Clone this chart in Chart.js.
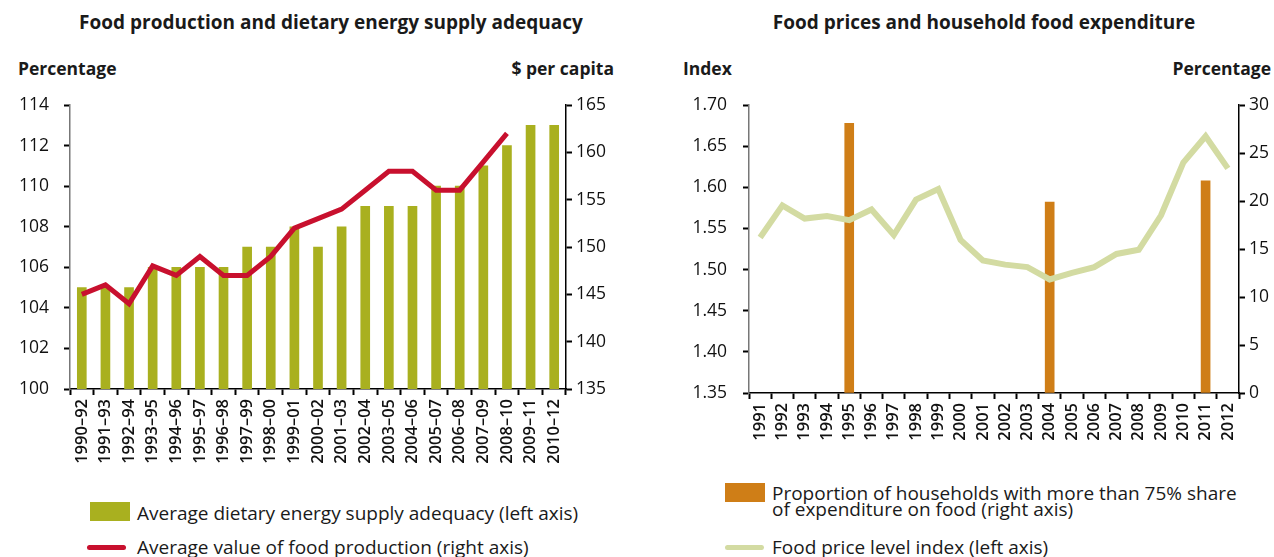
<!DOCTYPE html>
<html lang="en">
<head>
<meta charset="UTF-8">
<title>Food production and food prices</title>
<script src="https://cdn.jsdelivr.net/npm/chart.js@4.4.1/dist/chart.umd.min.js"></script>
<style>
  body { margin: 0; background: #fff; font-family: "Open Sans", sans-serif; color: #1a1a1a; }
  #page { position: relative; width: 1274px; height: 557px; overflow: hidden; }
  .box { position: absolute; }
  .title { position: absolute; font-weight: bold; font-size: 19px; white-space: nowrap; transform: translate(-50%, -50%); }
  .axt { position: absolute; font-weight: bold; font-size: 17.5px; white-space: nowrap; transform: translateY(-50%); }
  .leg { position: absolute; font-size: 19px; line-height: 16px; white-space: nowrap; }
  .sw { position: absolute; }
</style>
</head>
<body>
<div id="page">
  <div class="title" style="left:331px; top:22px;">Food production and dietary energy supply adequacy</div>
  <div class="title" style="left:984px; top:22px;">Food prices and household food expenditure</div>
  <div class="axt" style="left:18px; top:68px;">Percentage</div>
  <div class="axt" style="right:660px; top:68px;">$ per capita</div>
  <div class="axt" style="left:683px; top:68px;">Index</div>
  <div class="axt" style="right:3px; top:68px;">Percentage</div>

  <div class="box" style="left:0; top:0; width:640px; height:480px;"><canvas id="left"></canvas></div>
  <div class="box" style="left:640px; top:0; width:634px; height:480px;"><canvas id="right"></canvas></div>
  <div id="legends"></div>
</div>
<script>
// left chart: 3-year periods
const periods = ['1990–92', '1991–93', '1992–94', '1993–95', '1994–96', '1995–97', '1996–98', '1997–99',
                 '1998–00', '1999–01', '2000–02', '2001–03', '2002–04', '2003–05', '2004–06', '2005–07',
                 '2006–08', '2007–09', '2008–10', '2009–11', '2010–12'];
const energyAdequacy = [105, 105, 105, 106, 106, 106, 106, 107, 107, 108, 107, 108, 109, 109, 109, 110, 110, 111, 112, 113, 113];
const foodProdValue = [145, 146, 144, 148, 147, 149, 147, 147, 149, 152, 153, 154, 156, 158, 158, 156, 156, 159, 162, null, null];

// right chart: years
const years = ['1991', '1992', '1993', '1994', '1995', '1996', '1997', '1998', '1999', '2000', '2001',
               '2002', '2003', '2004', '2005', '2006', '2007', '2008', '2009', '2010', '2011', '2012'];
const priceIndex = [1.539, 1.578, 1.562, 1.565, 1.560, 1.573, 1.542, 1.585, 1.598, 1.536, 1.511,
                    1.506, 1.503, 1.488, 1.496, 1.503, 1.519, 1.524, 1.566, 1.630, 1.662, 1.623];
const foodShare = [null, null, null, null, 28.1, null, null, null, null, null, null,
                   null, null, 19.9, null, null, null, null, null, null, 22.1, null];

const OLIVE = '#a9b01f', RED = '#c8102e', ORANGE = '#cf7e17', SAGE = '#d3dba2';
const tickFont = { family: 'Open Sans', size: 17.5 };

function yAxis(pos, min, max, step, width, pad, border, fmt) {
    return {
        position: pos, min: min, max: max,
        afterFit: s => { s.width = width; },
        border: { display: true, color: border, width: 1.5 },
        grid: { drawOnChartArea: false, drawTicks: true, tickLength: 6, tickColor: '#000', tickWidth: 2 },
        ticks: { stepSize: step, padding: pad, color: '#111', font: tickFont, callback: fmt }
    };
}
function xAxis(height) {
    return {
        offset: true,
        afterFit: s => { s.height = height; },
        border: { display: true, color: '#000', width: 1.5 },
        grid: { offset: true, drawOnChartArea: false, drawTicks: true, tickLength: 6, tickColor: '#000', tickWidth: 2 },
        ticks: { autoSkip: false, minRotation: 90, maxRotation: 90, padding: 4, color: '#111',
                 font: { family: 'Open Sans', size: 16.5, weight: '600' } }
    };
}

const common = {
    responsive: true, maintainAspectRatio: false, animation: false,
    layout: { padding: { top: 105, left: 0, right: 0, bottom: 0 } },
    plugins: { legend: { display: false }, tooltip: { enabled: false } }
};

const leftSets = [
    { type: 'line', label: 'Average value of food production (right axis)', data: foodProdValue, yAxisID: 'y2',
      borderColor: RED, borderWidth: 5, pointRadius: 0, tension: 0, order: 0 },
    { type: 'bar', label: 'Average dietary energy supply adequacy (left axis)', data: energyAdequacy, yAxisID: 'y',
      backgroundColor: OLIVE, barThickness: 9, order: 1 }
];
new Chart(document.getElementById('left'), {
    type: 'bar',
    data: { labels: periods, datasets: leftSets },
    options: Object.assign({}, common, {
        scales: {
            x: xAxis(91),
            y: yAxis('left', 100, 114, 2, 70, 15, '#777', v => v),
            y2: yAxis('right', 135, 165, 5, 74, 4, '#000', v => v)
        }
    })
});

const rightSets = [
    { type: 'line', label: 'Food price level index (left axis)', data: priceIndex, yAxisID: 'y',
      borderColor: SAGE, borderWidth: 6, pointRadius: 0, tension: 0, order: 0 },
    { type: 'bar', label: 'Proportion of households with more than 75% share\nof expenditure on food (right axis)', data: foodShare, yAxisID: 'y2',
      backgroundColor: ORANGE, barThickness: 9, order: 1 }
];
new Chart(document.getElementById('right'), {
    type: 'bar',
    data: { labels: years, datasets: rightSets },
    options: Object.assign({}, common, {
        scales: {
            x: xAxis(87),
            y: yAxis('left', 1.35, 1.70, 0.05, 109, 16, '#777', v => v.toFixed(2)),
            y2: yAxis('right', 0, 30, 5, 35, 4, '#000', v => v)
        }
    })
});

// legends (html), from the dataset labels
const legendItems = [
    { set: leftSets[1], kind: 'box', x: 90, y: 502, tx: 137, ty: 505 },
    { set: leftSets[0], kind: 'line', x: 87, y: 545, tx: 137, ty: 539 },
    { set: rightSets[1], kind: 'box', x: 725, y: 483, tx: 772, ty: 485 },
    { set: rightSets[0], kind: 'line', x: 725, y: 545, tx: 772, ty: 539 }
];
const legBox = document.getElementById('legends');
legendItems.forEach(it => {
    const sw = document.createElement('div');
    sw.className = 'sw';
    if (it.kind === 'box') {
        sw.style.cssText = `left:${it.x}px;top:${it.y}px;width:40px;height:19px;background:${it.set.backgroundColor}`;
    } else {
        sw.style.cssText = `left:${it.x}px;top:${it.y}px;width:39px;height:5px;border-radius:3px;background:${it.set.borderColor}`;
    }
    legBox.appendChild(sw);
    const t = document.createElement('div');
    t.className = 'leg';
    t.style.left = it.tx + 'px';
    t.style.top = it.ty + 'px';
    t.innerHTML = it.set.label.split('\n').join('<br>');
    legBox.appendChild(t);
});
</script>
</body>
</html>
